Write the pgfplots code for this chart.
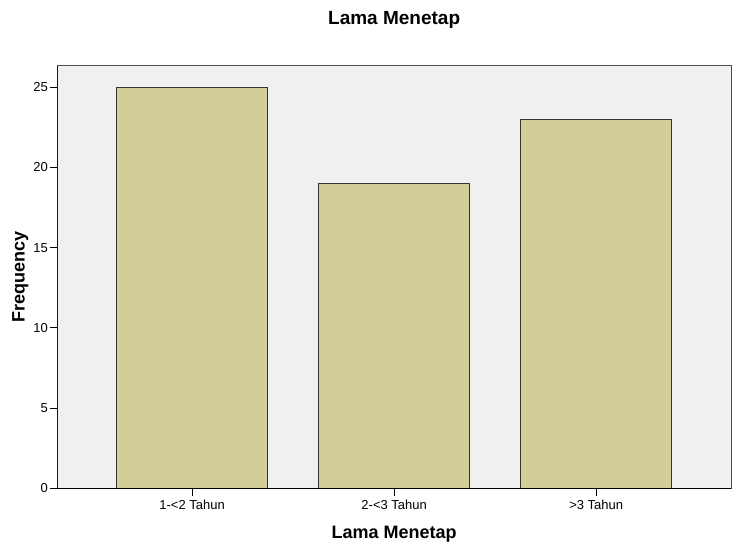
\documentclass[border=0pt]{standalone}
\usepackage{fontspec}
\setmainfont{Liberation Sans}
\usepackage{pgfplots}
\pgfplotsset{compat=1.18}
\definecolor{barc}{HTML}{D3CE97}
\definecolor{bgc}{HTML}{F0F0F0}
\definecolor{edge}{HTML}{333333}
\begin{document}
\begin{tikzpicture}
\path[use as bounding box] (-57.3bp,-55.5bp) rectangle (676.7bp,488.5bp);
\begin{axis}[
    at={(0,0)}, anchor=south west,
    scale only axis,
    width=673.7bp, height=422.8bp,
    ybar,
    bar width=151bp,
    xmin=-0.667, xmax=2.667,
    ymin=0, ymax=26.33,
    xtick=data,
    xticklabels={1-<2 Tahun, 2-<3 Tahun, >3 Tahun},
    ytick={0,5,10,15,20,25},
    /pgf/number format/assume math mode=true,
    tick align=outside,
    xtick pos=left, ytick pos=left,
    major tick length=7bp,
    tick style={black, line width=1bp},
    axis background/.style={fill=bgc},
    axis line style={draw=black!70, line width=0.8bp},
    ticklabel style={font=\fontsize{13bp}{15bp}\selectfont},
    xticklabel style={yshift=-1bp},
    yticklabel style={xshift=1bp},
    title={Lama Menetap},
    title style={at={(0.5,1)}, anchor=center, yshift=40bp, font=\fontsize{19bp}{22bp}\selectfont\bfseries},
    xlabel={Lama Menetap},
    xlabel style={at={(0.5,0)}, anchor=center, yshift=-45.5bp, font=\fontsize{18bp}{21bp}\selectfont\bfseries},
    ylabel={Frequency},
    ylabel style={at={(-0.055,0.5)}, anchor=center, font=\fontsize{18bp}{21bp}\selectfont\bfseries},
]
\addplot[fill=barc, draw=edge, line width=1.1bp] coordinates {(0,25) (1,19) (2,23)};
\draw[black, line width=1.3bp] (rel axis cs:0,1) -- (rel axis cs:0,0) -- (rel axis cs:1,0);
\end{axis}
\end{tikzpicture}
\end{document}
